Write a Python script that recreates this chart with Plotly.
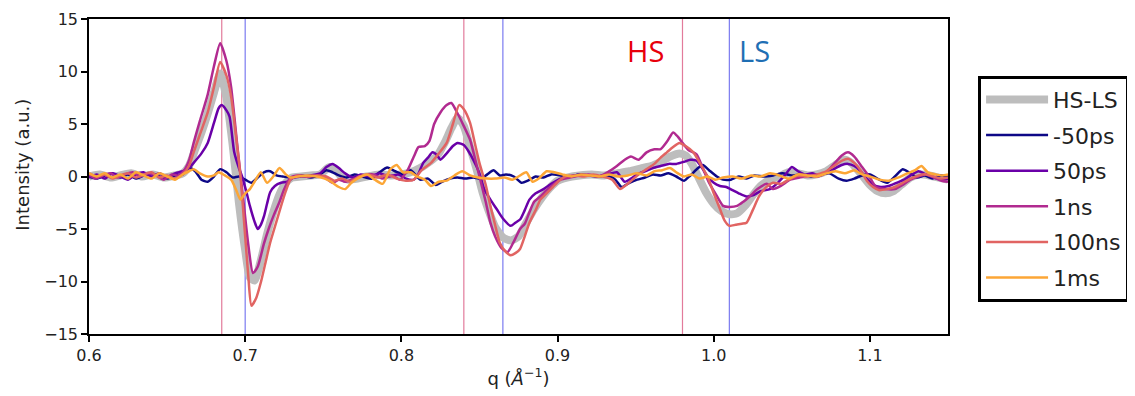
import plotly.graph_objects as go

# ---------------- data ----------------
SERIES_NAMES = ["HS-LS", "-50ps", "50ps", "1ns", "100ns", "1ms"]
SERIES_COLORS = ["#bdbdbd", "#0d0887", "#6a00a8", "#b12a90", "#e16462", "#fca636"]
SERIES_WIDTHS = [8, 2.5, 2.5, 2.5, 2.5, 2.5]

Q_HSLS = [0.600, 0.607, 0.614, 0.620, 0.627, 0.634, 0.641, 0.648, 0.655, 0.660,
          0.664, 0.668, 0.672, 0.676, 0.680, 0.684, 0.688, 0.692, 0.696, 0.700,
          0.703, 0.706, 0.710, 0.714, 0.718, 0.722, 0.726, 0.730, 0.736, 0.742,
          0.748, 0.754, 0.758, 0.762, 0.766, 0.772, 0.778, 0.786, 0.794, 0.800,
          0.806, 0.812, 0.818, 0.823, 0.828, 0.832, 0.836, 0.840, 0.844, 0.848,
          0.852, 0.856, 0.860, 0.865, 0.870, 0.875, 0.880, 0.885, 0.890, 0.895,
          0.900, 0.906, 0.914, 0.922, 0.930, 0.938, 0.946, 0.954, 0.960, 0.966,
          0.972, 0.978, 0.982, 0.986, 0.990, 0.995, 1.000, 1.005, 1.010, 1.015,
          1.020, 1.025, 1.030, 1.036, 1.042, 1.048, 1.054, 1.060, 1.066, 1.072,
          1.078, 1.084, 1.088, 1.094, 1.100, 1.105, 1.110, 1.115, 1.120, 1.126,
          1.132, 1.138, 1.144, 1.150]
I_HSLS = [0.0, 0.2, -0.1, 0.1, 0.3, 0.0, 0.2, -0.1, 0.1, 0.3,
          1.0, 2.6, 4.2, 6.0, 8.0, 9.8, 7.5, 3.0, -2.5, -7.0,
          -9.6, -9.9, -8.0, -5.5, -3.4, -1.7, -0.6, -0.1, 0.0, 0.1,
          0.2, 0.9, 0.6, -0.1, -0.3, -0.2, 0.0, 0.2, 0.1, 0.2,
          0.4, 0.8, 1.4, 2.0, 3.3, 4.6, 5.6, 4.8, 2.8, 0.8,
          -1.5, -3.3, -4.8, -5.8, -6.1, -5.7, -4.4, -3.1, -2.0, -1.1,
          -0.4, -0.1, 0.1, 0.2, 0.1, 0.3, 0.5, 0.8, 1.0, 1.4,
          1.9, 2.2, 2.0, 1.2, 0.0, -1.5, -2.6, -3.3, -3.6, -3.5,
          -2.8, -1.8, -0.9, -0.3, 0.0, 0.4, 0.3, 0.1, 0.2, 0.5,
          1.1, 1.6, 1.3, 0.3, -0.8, -1.4, -1.6, -1.4, -0.8, -0.1,
          0.2, 0.1, -0.1, -0.3]

Q_M50PS = [0.600, 0.605, 0.610, 0.615, 0.620, 0.625, 0.630, 0.635, 0.640, 0.645,
           0.650, 0.655, 0.660, 0.664, 0.668, 0.672, 0.676, 0.680, 0.684, 0.688,
           0.692, 0.696, 0.700, 0.704, 0.708, 0.712, 0.716, 0.720, 0.724, 0.730,
           0.736, 0.742, 0.748, 0.752, 0.756, 0.760, 0.765, 0.770, 0.775, 0.781,
           0.786, 0.791, 0.796, 0.801, 0.806, 0.812, 0.817, 0.822, 0.826, 0.831,
           0.836, 0.841, 0.846, 0.851, 0.855, 0.859, 0.863, 0.867, 0.872, 0.877,
           0.881, 0.886, 0.891, 0.896, 0.902, 0.908, 0.914, 0.920, 0.926, 0.932,
           0.937, 0.941, 0.946, 0.951, 0.956, 0.961, 0.966, 0.971, 0.976, 0.981,
           0.985, 0.990, 0.993, 0.997, 1.002, 1.006, 1.011, 1.016, 1.021, 1.026,
           1.032, 1.038, 1.044, 1.050, 1.056, 1.062, 1.068, 1.074, 1.080, 1.085,
           1.090, 1.095, 1.100, 1.106, 1.111, 1.116, 1.121, 1.125, 1.130, 1.135,
           1.140, 1.145, 1.150]
I_M50PS = [0.0, -0.2, 0.1, 0.3, -0.1, 0.2, -0.2, 0.1, 0.3, 0.0,
           -0.2, 0.1, 0.2, 0.8, 0.5, -0.3, -0.5, 0.0, 0.7, 0.4,
           -0.1, 0.0, -0.3, -0.6, -0.1, 0.4, 0.5, 0.1, 0.0, -0.1,
           0.1, -0.1, 0.2, 0.6, 0.4, 0.1, -0.1, 0.2, 0.0, -0.2,
           0.4, 0.85, 0.5, 0.2, 0.6, -0.3, -0.2, -0.8, -0.5, -0.2,
           -0.1, -0.2, -0.1, -0.2, 0.2, 0.6, 0.1, 0.2, 0.0, -0.6,
           -0.4, 0.0, -0.1, 0.2, 0.1, 0.0, 0.2, 0.1, 0.0, 0.1,
           -0.3, -1.0, -0.6, -0.3, -0.1, 0.2, 0.1, 0.3, 0.0, -0.4,
           0.1, 0.8, 1.1, 0.6, 0.0, -0.3, -0.3, 0.0, -0.2, 0.1,
           0.0, 0.1, 0.3, 0.1, 0.2, 0.0, 0.2, 0.3, -0.2, -0.4,
           -0.2, 0.1, 0.2, -0.3, -0.6, 0.0, 0.7, 0.4, -0.1, 0.1,
           -0.2, 0.1, 0.0]

Q_50PS = [0.600, 0.605, 0.610, 0.615, 0.620, 0.625, 0.630, 0.635, 0.640, 0.645,
          0.650, 0.655, 0.660, 0.664, 0.667, 0.672, 0.676, 0.680, 0.683, 0.685,
          0.688, 0.690, 0.693, 0.696, 0.698, 0.701, 0.703, 0.706, 0.708, 0.710,
          0.712, 0.714, 0.716, 0.719, 0.723, 0.727, 0.731, 0.736, 0.742, 0.748,
          0.752, 0.756, 0.760, 0.764, 0.769, 0.774, 0.780, 0.786, 0.792, 0.798,
          0.803, 0.808, 0.811, 0.814, 0.817, 0.820, 0.823, 0.825, 0.829, 0.833,
          0.836, 0.840, 0.843, 0.846, 0.850, 0.853, 0.857, 0.861, 0.865, 0.870,
          0.873, 0.876, 0.879, 0.882, 0.886, 0.891, 0.894, 0.897, 0.902, 0.908,
          0.914, 0.920, 0.926, 0.932, 0.938, 0.943, 0.947, 0.951, 0.956, 0.961,
          0.966, 0.971, 0.976, 0.981, 0.985, 0.989, 0.993, 0.996, 1.000, 1.004,
          1.008, 1.012, 1.016, 1.021, 1.025, 1.030, 1.036, 1.041, 1.046, 1.050,
          1.054, 1.058, 1.063, 1.068, 1.073, 1.078, 1.082, 1.086, 1.090, 1.094,
          1.098, 1.102, 1.107, 1.112, 1.117, 1.122, 1.127, 1.131, 1.136, 1.141,
          1.146, 1.150]
I_50PS = [-0.1, 0.2, -0.2, 0.3, 0.0, -0.3, 0.2, 0.4, 0.0, 0.3,
          -0.1, 0.3, 0.5, 0.8, 1.3, 2.2, 3.2, 5.1, 6.5, 6.8,
          6.3, 5.7, 2.3, 0.8, 0.0, -1.6, -2.8, -4.3, -5.0, -4.6,
          -3.8, -2.6, -1.5, -0.9, -0.6, -0.5, -0.1, 0.0, 0.1, 0.3,
          0.9, 1.2, 0.8, 0.3, -0.1, 0.2, 0.0, 0.3, 0.0, 0.2,
          -0.2, -0.3, 0.3, 1.3, 1.8, 2.3, 2.0, 1.6, 2.2, 2.9,
          3.2, 3.0, 2.4, 1.6, 0.3, -1.2, -2.2, -3.1, -4.0, -4.7,
          -4.4, -4.1, -3.2, -2.2, -1.6, -1.2, -0.9, -0.6, -0.2, 0.0,
          0.2, 0.1, 0.0, 0.2, 0.4, -0.5, -0.2, 0.2, 0.5, 0.8,
          1.0, 1.2, 1.2, 1.4, 1.6, 1.5, 0.7, 0.0, -0.6, -0.9,
          -1.0, -1.3, -1.6, -1.9, -1.8, -1.4, -1.2, -0.6, 0.2, 0.9,
          0.5, 0.2, 0.3, 0.1, 0.4, 0.8, 1.1, 1.2, 1.0, 0.5,
          -0.2, -0.8, -1.0, -0.9, -0.6, -0.3, 0.2, 0.5, 0.2, -0.1,
          -0.3, -0.2]

Q_1NS = [0.600, 0.604, 0.609, 0.614, 0.618, 0.623, 0.628, 0.633, 0.638, 0.643,
         0.648, 0.653, 0.657, 0.660, 0.664, 0.667, 0.671, 0.676, 0.680, 0.684,
         0.688, 0.691, 0.695, 0.699, 0.702, 0.705, 0.708, 0.712, 0.715, 0.718,
         0.722, 0.725, 0.729, 0.734, 0.740, 0.746, 0.751, 0.756, 0.760, 0.764,
         0.770, 0.776, 0.782, 0.788, 0.794, 0.799, 0.804, 0.808, 0.811, 0.815,
         0.818, 0.821, 0.825, 0.829, 0.832, 0.836, 0.840, 0.844, 0.847, 0.850,
         0.854, 0.857, 0.860, 0.864, 0.868, 0.872, 0.876, 0.879, 0.882, 0.885,
         0.889, 0.893, 0.897, 0.902, 0.908, 0.914, 0.920, 0.926, 0.932, 0.938,
         0.943, 0.947, 0.952, 0.957, 0.962, 0.966, 0.970, 0.974, 0.977, 0.980,
         0.984, 0.989, 0.993, 0.997, 1.001, 1.006, 1.010, 1.015, 1.019, 1.023,
         1.028, 1.034, 1.038, 1.043, 1.049, 1.055, 1.061, 1.067, 1.072, 1.077,
         1.082, 1.086, 1.090, 1.095, 1.100, 1.104, 1.110, 1.116, 1.121, 1.126,
         1.131, 1.136, 1.141, 1.146, 1.150]
I_1NS = [0.2, -0.2, 0.1, 0.3, -0.1, 0.2, 0.4, 0.0, 0.3, 0.1,
         -0.3, 0.2, 0.1, 0.4, 1.5, 3.2, 5.3, 7.8, 10.5, 12.7,
         11.0, 8.5, 2.9, -2.5, -6.5, -9.2, -8.6, -6.4, -5.0, -3.8,
         -2.4, -1.2, -0.1, 0.1, 0.0, 0.1, -0.1, -0.6, -0.3, -0.5,
         -0.2, 0.1, 0.2, -0.2, 0.1, -0.3, 0.6, 1.9, 2.8, 2.9,
         3.4, 5.0, 6.1, 6.8, 7.0, 6.0, 4.8, 3.5, 1.8, 0.0,
         -2.4, -4.4, -5.7, -6.8, -7.2, -6.2, -5.0, -4.5, -3.4, -2.4,
         -1.9, -1.3, -0.8, -0.3, -0.1, 0.1, 0.2, 0.0, 0.4, 1.0,
         1.6, 1.9, 1.6, 2.3, 2.6, 2.6, 3.3, 4.2, 3.8, 3.2,
         2.5, 2.1, 0.8, -0.6, -1.6, -2.8, -2.9, -2.8, -2.4, -1.9,
         -1.2, -0.7, -1.2, -0.9, -0.3, -0.1, 0.1, 0.0, 0.4, 1.2,
         2.0, 2.3, 1.9, 0.9, -0.1, -1.0, -1.2, -1.2, -0.8, -0.3,
         0.0, 0.2, -0.1, -0.4, -0.5]

Q_100NS = [0.600, 0.605, 0.610, 0.615, 0.620, 0.625, 0.630, 0.635, 0.640, 0.645,
           0.650, 0.655, 0.660, 0.664, 0.667, 0.671, 0.676, 0.680, 0.684, 0.688,
           0.691, 0.694, 0.697, 0.700, 0.702, 0.704, 0.707, 0.710, 0.713, 0.716,
           0.720, 0.723, 0.726, 0.729, 0.734, 0.740, 0.746, 0.752, 0.757, 0.762,
           0.767, 0.773, 0.779, 0.785, 0.791, 0.797, 0.803, 0.808, 0.813, 0.819,
           0.824, 0.829, 0.833, 0.837, 0.840, 0.844, 0.847, 0.850, 0.854, 0.857,
           0.860, 0.863, 0.867, 0.870, 0.873, 0.876, 0.879, 0.882, 0.886, 0.889,
           0.893, 0.897, 0.901, 0.905, 0.911, 0.917, 0.923, 0.929, 0.935, 0.940,
           0.944, 0.948, 0.953, 0.957, 0.962, 0.966, 0.970, 0.974, 0.978, 0.982,
           0.987, 0.991, 0.996, 1.000, 1.004, 1.007, 1.010, 1.014, 1.018, 1.021,
           1.025, 1.029, 1.033, 1.038, 1.043, 1.048, 1.054, 1.060, 1.066, 1.072,
           1.077, 1.082, 1.086, 1.090, 1.094, 1.098, 1.102, 1.106, 1.111, 1.116,
           1.121, 1.126, 1.131, 1.136, 1.141, 1.146, 1.150]
I_100NS = [0.3, 0.0, 0.2, -0.2, 0.1, 0.3, -0.1, 0.2, 0.4, -0.1,
           0.1, -0.2, 0.2, 1.0, 2.3, 4.0, 6.1, 8.5, 10.9, 9.6,
           7.6, 4.0, 0.0, -5.7, -9.5, -12.3, -11.6, -10.1, -8.2, -6.3,
           -4.3, -2.8, -1.4, -0.3, 0.1, 0.0, 0.1, 0.0, -0.4, -0.2,
           -0.5, 0.0, 0.2, -0.1, 0.2, -0.2, -0.4, -0.3, 0.6, 1.3,
           2.2, 3.2, 5.0, 6.8, 6.4, 5.1, 3.2, 1.3, -0.8, -2.8,
           -4.6, -6.3, -7.2, -7.5, -7.3, -6.9, -5.7, -4.4, -3.2, -2.2,
           -1.6, -1.0, -0.4, 0.0, 0.1, 0.0, 0.2, 0.0, -0.3, -1.2,
           -0.8, -0.3, 0.3, 0.7, 1.2, 1.8, 2.3, 2.8, 3.2, 2.9,
           2.3, 1.3, 0.0, -1.6, -3.1, -4.2, -4.7, -4.6, -4.5, -4.4,
           -3.2, -1.9, -1.1, -0.6, -0.7, -0.3, 0.1, 0.0, 0.2, 0.5,
           1.0, 1.5, 1.7, 1.3, 0.6, -0.4, -1.0, -1.3, -1.2, -1.0,
           -0.6, -0.2, 0.1, 0.2, 0.0, -0.2, -0.1]

Q_1MS = [0.600, 0.605, 0.610, 0.615, 0.620, 0.625, 0.630, 0.635, 0.640, 0.645,
         0.650, 0.655, 0.660, 0.664, 0.667, 0.671, 0.676, 0.680, 0.683, 0.687,
         0.691, 0.694, 0.697, 0.700, 0.703, 0.706, 0.710, 0.714, 0.718, 0.722,
         0.726, 0.729, 0.734, 0.740, 0.746, 0.751, 0.755, 0.760, 0.764, 0.768,
         0.773, 0.778, 0.783, 0.788, 0.793, 0.797, 0.801, 0.806, 0.810, 0.815,
         0.819, 0.824, 0.829, 0.834, 0.839, 0.844, 0.849, 0.855, 0.860, 0.866,
         0.871, 0.875, 0.880, 0.884, 0.888, 0.893, 0.898, 0.903, 0.909, 0.915,
         0.921, 0.927, 0.933, 0.939, 0.945, 0.951, 0.957, 0.962, 0.967, 0.972,
         0.976, 0.981, 0.986, 0.991, 0.996, 1.001, 1.006, 1.012, 1.018, 1.024,
         1.030, 1.036, 1.042, 1.048, 1.054, 1.060, 1.066, 1.072, 1.078, 1.084,
         1.090, 1.095, 1.100, 1.106, 1.112, 1.118, 1.124, 1.129, 1.133, 1.137,
         1.142, 1.146, 1.150]
I_1MS = [0.3, 0.0, 0.3, -0.1, 0.2, -0.2, 0.4, 0.1, -0.2, 0.3,
         0.0, -0.3, 0.2, 0.5, 0.7, 0.3, 0.0, 0.1, 0.4, 0.1,
         -0.3, -1.2, -2.2, -1.6, -1.2, -0.5, 0.4, -0.6, 0.0, 0.8,
         0.2, -0.1, 0.0, 0.1, 0.0, -0.2, -0.5, -1.0, -1.2, -0.6,
         -0.1, 0.2, -0.3, -0.7, 0.7, 1.1, 0.4, 0.4, 0.0, -0.3,
         -0.9, -0.5, -0.4, 0.1, 0.5, 0.1, -0.1, -0.2, -0.2, -0.1,
         -0.3, 0.0, 0.4, -0.5, -0.2, 0.5, 0.4, 0.2, 0.0, 0.2,
         0.1, 0.0, 0.2, 0.0, 0.1, 0.3, 0.1, 0.5, 0.6, 0.8,
         0.4, 0.0, 0.2, -0.2, 0.0, -0.3, -0.1, 0.0, -0.2, 0.1,
         0.0, 0.3, 0.1, -0.2, 0.2, 0.1, 0.0, 0.3, 0.5, 0.3,
         0.6, 0.2, 0.0, -0.3, -0.4, -0.1, 0.3, 0.6, 1.0, 0.4,
         0.2, 0.1, 0.2]

HS_PEAKS = [0.685, 0.840, 0.980]
LS_PEAKS = [0.700, 0.865, 1.010]
X_TICKS = [0.6, 0.7, 0.8, 0.9, 1.0, 1.1]
Y_TICKS = [-15, -10, -5, 0, 5, 10, 15]
X_RANGE = [0.6, 1.15]
Y_RANGE = [-15, 15]
LABELS = [("HS", 0.956, 12.0, "#e8000b"), ("LS", 1.026, 12.0, "#1f6fb4")]
X_TITLE = "q (<i>Å</i><sup>−1</sup>)"
Y_TITLE = "Intensity (a.u.)"

# ---------------- figure ----------------
Q_ALL = [Q_HSLS, Q_M50PS, Q_50PS, Q_1NS, Q_100NS, Q_1MS]
I_ALL = [I_HSLS, I_M50PS, I_50PS, I_1NS, I_100NS, I_1MS]

FONT = "DejaVu Sans"
fig = go.Figure()
for k, name in enumerate(SERIES_NAMES):
    fig.add_trace(go.Scatter(
        x=Q_ALL[k], y=I_ALL[k], mode="lines", name=name,
        legendgroup=name,
        line=dict(color=SERIES_COLORS[k], width=SERIES_WIDTHS[k], shape="spline", smoothing=0.6),
    ))

for xv in HS_PEAKS:
    fig.add_shape(type="line", xref="x", yref="paper", x0=xv, x1=xv, y0=0, y1=1,
                  line=dict(color="#e27b9b", width=1.2), layer="below")
for xv in LS_PEAKS:
    fig.add_shape(type="line", xref="x", yref="paper", x0=xv, x1=xv, y0=0, y1=1,
                  line=dict(color="#7b7bf0", width=1.2), layer="below")

for txt, xv, yv, col in LABELS:
    fig.add_annotation(x=xv, y=yv, xref="x", yref="y", text=txt, showarrow=False,
                       font=dict(family="Open Sans", size=29, color=col))

# y-axis label (placed as in the reference, slightly above the axis centre)
fig.add_annotation(x=-0.077, y=0.537, xref="paper", yref="paper", text=Y_TITLE,
                   textangle=-90, showarrow=False, xanchor="center", yanchor="middle",
                   font=dict(family=FONT, size=18, color="#222222"))

axis_common = dict(
    showgrid=False, zeroline=False, showline=True, linecolor="black", linewidth=1.5,
    mirror=True, ticks="outside", ticklen=6, tickwidth=1.5, tickcolor="black",
    tickfont=dict(family=FONT, size=16, color="#222222"),
)
fig.update_xaxes(range=X_RANGE, tickvals=X_TICKS, tickformat=".1f",
                 title=dict(text=X_TITLE,
                            font=dict(family=FONT, size=18, color="#222222"), standoff=8),
                 **axis_common)
fig.update_yaxes(range=Y_RANGE, tickvals=Y_TICKS, **axis_common)

# page body adds an 8px offset; margins compensate so the frame sits at x 89-948, y 19-334
fig.update_layout(
    width=1127, height=388,
    margin=dict(l=81, r=187, t=11, b=62, autoexpand=False),
    paper_bgcolor="white", plot_bgcolor="white",
    showlegend=True,
    legend=dict(x=1.035, y=0.82, xanchor="left", yanchor="top",
                bordercolor="black", borderwidth=3, bgcolor="white",
                font=dict(family=FONT, size=22, color="#222222"),
                tracegroupgap=4, itemwidth=62),
)

fig.write_html("out.html")
